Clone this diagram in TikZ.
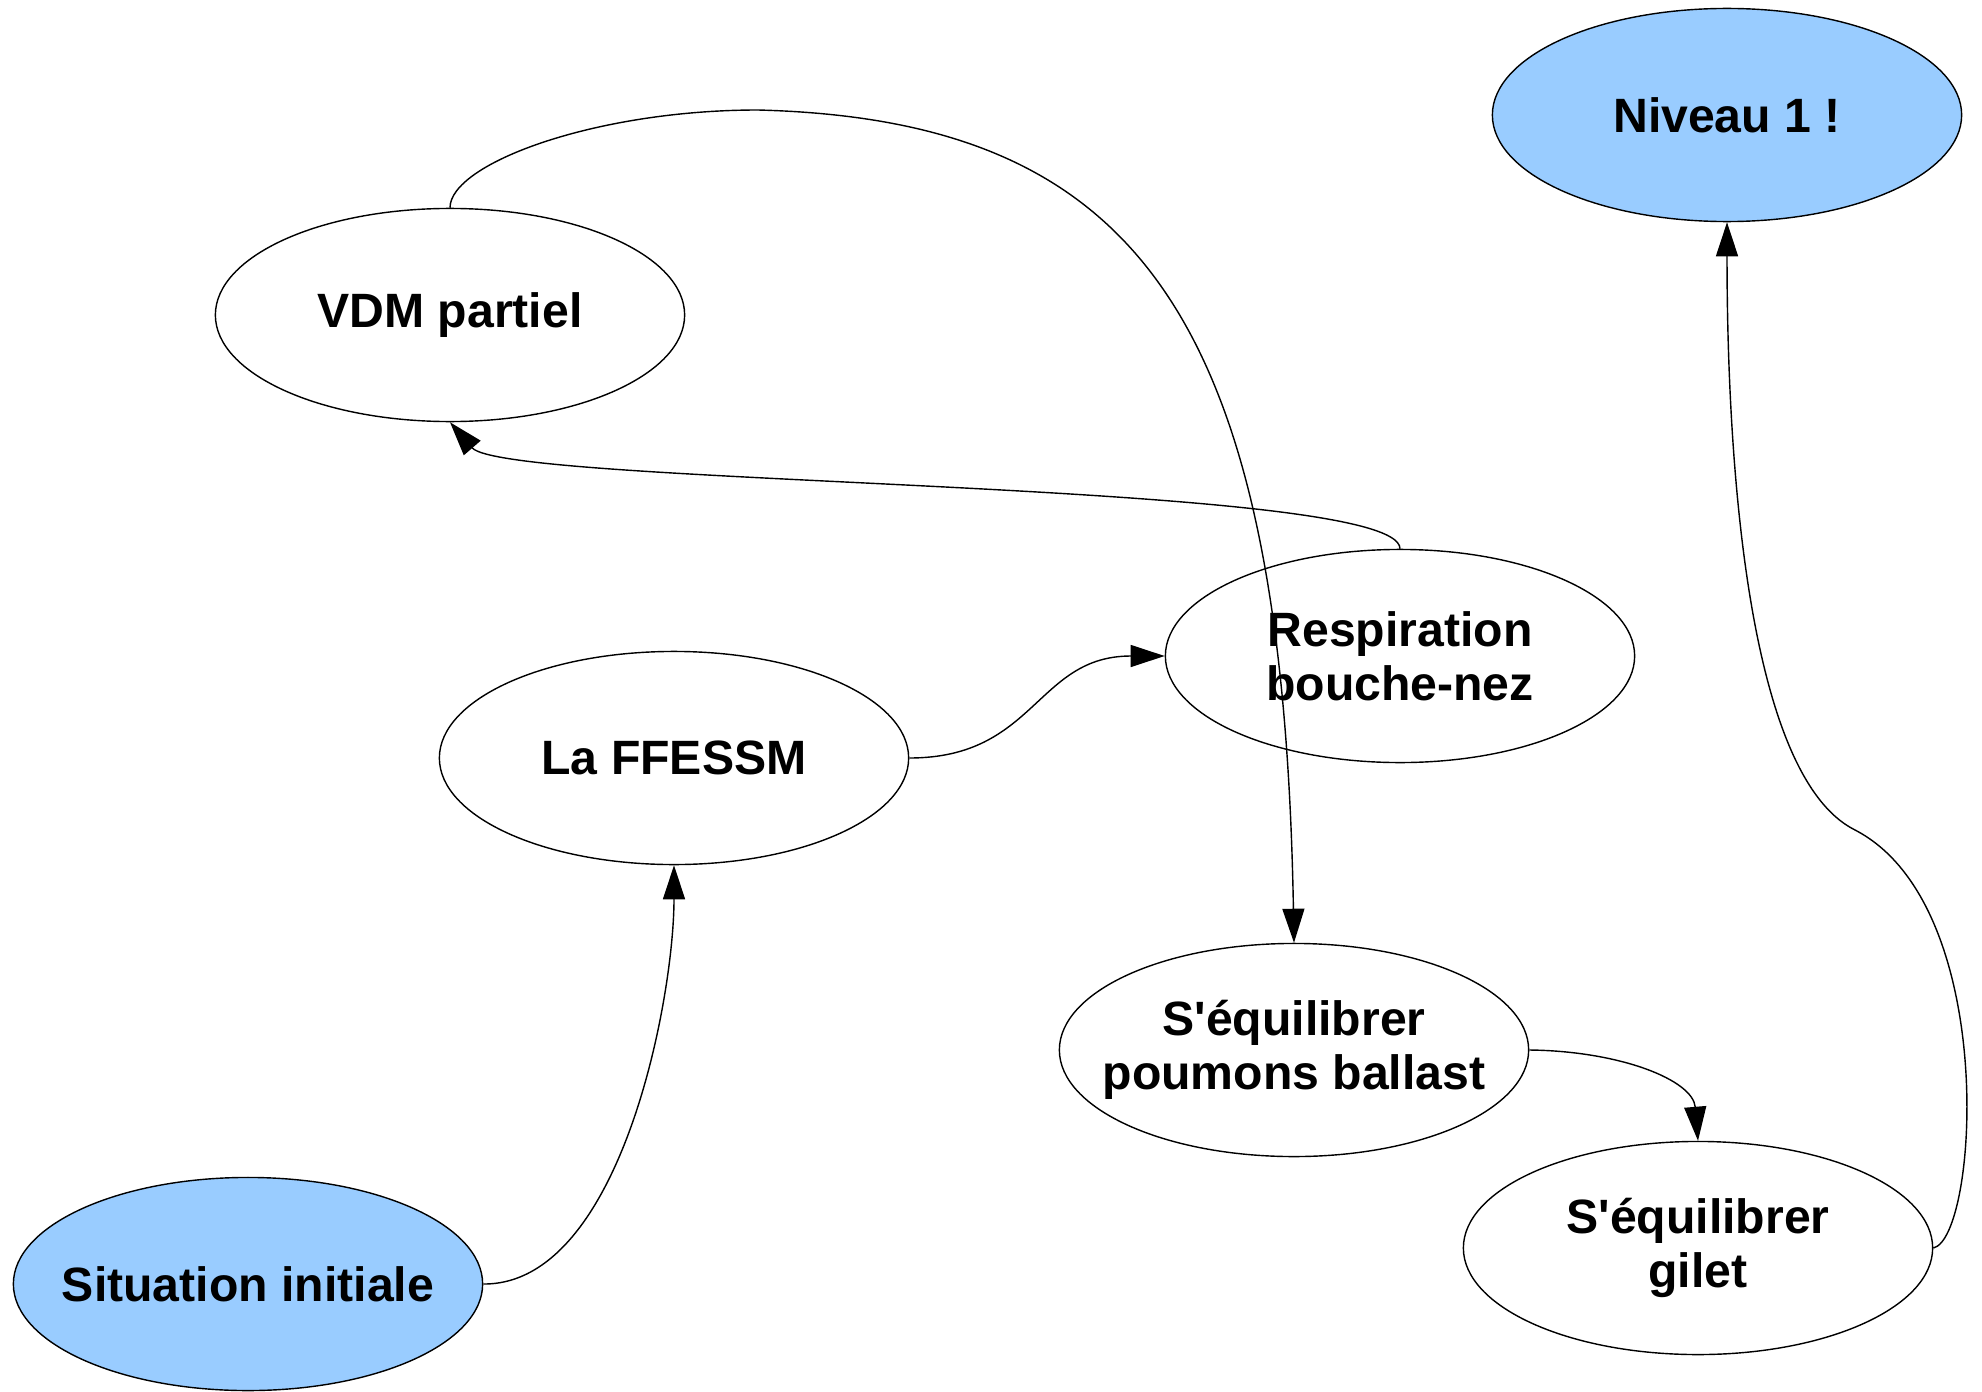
\documentclass[tikz,border=0pt]{standalone}
\usepackage{fontspec}
\setmainfont{Liberation Sans}
\usetikzlibrary{arrows.meta,shapes.geometric}
\definecolor{bleu}{HTML}{99CCFF}

\begin{document}
\begin{tikzpicture}[x=0.01cm,y=-0.01cm,
    etape/.style={draw,ellipse,line width=0.4pt,minimum width=4.69cm,minimum height=2.13cm,
        inner sep=0pt,inner xsep=-1.2cm,align=center,font=\fontsize{13.7}{15.4}\selectfont\bfseries},
    borne/.style={etape,fill=bleu},
    lien/.style={-{Triangle[length=3.4mm,width=2.2mm]},line width=0.4pt}]
    \useasboundingbox (0,0) rectangle (1982,1391);
    \node[borne] (niveau) at (1727,115) {Niveau 1 !};
    \node[etape] (vdm) at (450,315) {VDM partiel};
    \node[etape] (resp) at (1400,656) {Respiration\\bouche-nez};
    \node[etape] (ffessm) at (674,758) {La FFESSM};
    \node[etape] (poumons) at (1294,1050) {S\textquotesingle équilibrer\\poumons ballast};
    \node[etape] (gilet) at (1698,1248) {S\textquotesingle équilibrer\\gilet};
    \node[borne] (init) at (248,1284) {Situation initiale};
    \coordinate (sommet) at (758,110);
    \coordinate (coude) at (1855,830);
    % liens
    \draw[lien] (init.east) .. controls (620,1285) and (674,1000) .. (ffessm.south);
    \draw[lien] (ffessm.east) .. controls (1036,758) and (1036,656) .. (resp.west);
    \draw[lien] (resp.north) .. controls (1400,480) and (506,487) .. (vdm.south);
    \draw[lien] (vdm.north) .. controls (450,164) and (594,110) .. (sommet)
        .. controls (1138,120) and (1283,316) .. (poumons.north);
    \draw[lien] (poumons.east) .. controls (1620,1051) and (1693,1080) .. (gilet.north);
    \draw[lien] (gilet.east) .. controls (1978,1238) and (2000,905) .. (coude)
        .. controls (1745,775) and (1727,450) .. (niveau.south);
\end{tikzpicture}
\end{document}
